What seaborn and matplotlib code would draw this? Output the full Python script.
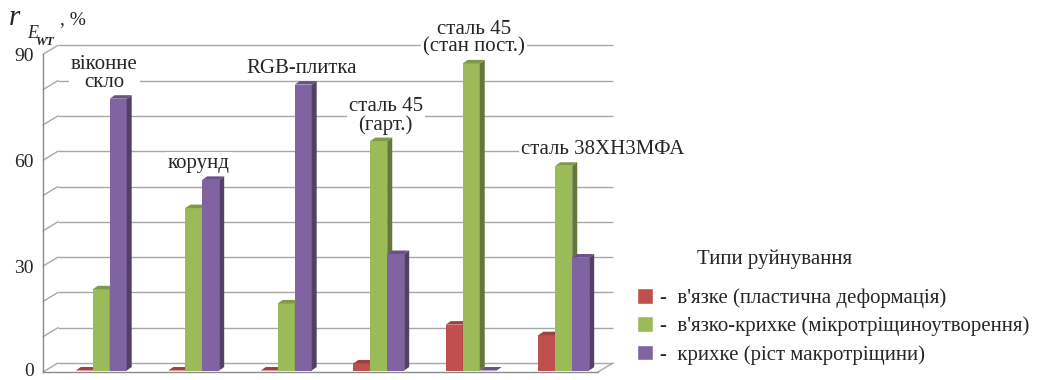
import numpy as np
import pandas as pd
import matplotlib
matplotlib.use("Agg")
import matplotlib.pyplot as plt
from matplotlib.transforms import Affine2D, IdentityTransform
from matplotlib.patches import Polygon
from matplotlib.lines import Line2D
from matplotlib.colors import to_rgb
import seaborn as sns

# ---- data -------------------------------------------------------------
materials = ["віконне скло", "корунд", "RGB-плитка",
             "сталь 45 (гарт.)", "сталь 45 (стан пост.)", "сталь 38ХН3МФА"]
material_labels = ["віконне\nскло", "корунд", "RGB-плитка",
                   "сталь 45\n(гарт.)", "сталь 45\n(стан пост.)", "сталь 38ХН3МФА"]
fracture_types = ["в'язке (пластична деформація)",
                  "в'язко-крихке (мікротріщиноутворення)",
                  "крихке (ріст макротріщини)"]
ductile = [0, 0, 0, 2, 13, 10]
ductile_brittle = [23, 46, 19, 65, 87, 58]
brittle = [77, 54, 81, 33, 0, 32]
y_ticks = [0, 30, 60, 90]
legend_title = "Типи руйнування"

# ---- styling ----------------------------------------------------------
colors = ["#c0504d", "#9bbb59", "#8064a2"]
grid_color = "#a8a8a8"
axis_color = "#8a8a8a"
FS = 15
SERIF = "Liberation Serif"

sns.set_style("white")
plt.rcParams["font.family"] = "serif"
plt.rcParams["font.serif"] = [SERIF, "DejaVu Serif"]

W, H = 1039, 380
fig = plt.figure(figsize=(W / 100, H / 100), dpi=100)
ax = fig.add_axes([43 / W, 8 / H, 555 / W, 317.7 / H])

df = pd.DataFrame({
    "material": np.repeat(materials, 3),
    "type": fracture_types * len(materials),
    "value": np.ravel(np.column_stack([ductile, ductile_brittle, brittle])),
})

sns.barplot(data=df, x="material", y="value", hue="type",
            order=materials, hue_order=fracture_types, palette=colors,
            saturation=1, width=0.55, errorbar=None, ax=ax, legend=True)

ax.set_xlim(-0.5, len(materials) - 0.5)
ax.set_ylim(0, 90)
ax.set_autoscale_on(False)
ax.set_xlabel("")
ax.set_ylabel("")

# pseudo-3D geometry (display pixels)
BAR_DX, BAR_DY = 12, 1.5       # bars sit a little behind the front plane
DEPTH_DX, DEPTH_DY = 5, 3.5    # bar thickness
WALL_DX, WALL_DY = 15, 9       # back wall offset


def shade(c, f):
    r, g, b = to_rgb(c)
    return (r * f, g * f, b * f)


ident = IdentityTransform()
bar_shift = ax.transData + Affine2D().translate(BAR_DX, BAR_DY)
cluster_tops = {}
for i, cont in enumerate(ax.containers):
    base = colors[i]
    for j, p in enumerate(cont):
        p.set_transform(bar_shift)
        p.set_linewidth(0)
        z = 3 + i * 0.1
        p.set_zorder(z)
        x0, y0 = p.get_x(), p.get_y()
        X0, Y0 = bar_shift.transform((x0, y0))
        X1, Y1 = bar_shift.transform((x0 + p.get_width(), y0 + p.get_height()))
        side = Polygon([(X1, Y0), (X1 + DEPTH_DX, Y0 + DEPTH_DY),
                        (X1 + DEPTH_DX, Y1 + DEPTH_DY), (X1, Y1)],
                       closed=True, transform=ident, facecolor=shade(base, 0.64),
                       edgecolor="none", zorder=z + 0.01, clip_on=False)
        top = Polygon([(X0, Y1), (X1, Y1), (X1 + DEPTH_DX, Y1 + DEPTH_DY),
                       (X0 + DEPTH_DX, Y1 + DEPTH_DY)],
                      closed=True, transform=ident, facecolor=shade(base, 0.82),
                      edgecolor="none", zorder=z + 0.02, clip_on=False)
        ax.add_patch(side)
        ax.add_patch(top)
        lo, hi, top_y = cluster_tops.get(j, (np.inf, -np.inf, -np.inf))
        cluster_tops[j] = (min(lo, X0), max(hi, X1), max(top_y, Y1 + DEPTH_DY))

# back wall gridlines
grid_values = np.arange(0, 91, 10)
wall = ax.transData + Affine2D().translate(WALL_DX, WALL_DY)
ax.hlines(grid_values, -0.5, len(materials) - 0.5, transform=wall,
          colors=grid_color, lw=1, zorder=1, clip_on=False)
# side wall and floor edges
for v in grid_values:
    px, py = ax.transData.transform((-0.5, v))
    ax.add_line(Line2D([px, px + WALL_DX], [py, py + WALL_DY], transform=ident,
                       color=grid_color, lw=1, zorder=1, clip_on=False))
px, py = ax.transData.transform((len(materials) - 0.5, 0))
ax.add_line(Line2D([px, px + WALL_DX], [py, py + WALL_DY], transform=ident,
                   color=grid_color, lw=1, zorder=1, clip_on=False))

# axes
for s in ["top", "right"]:
    ax.spines[s].set_visible(False)
for s in ["left", "bottom"]:
    ax.spines[s].set_color(axis_color)
    ax.spines[s].set_linewidth(1)
ax.set_xticks(np.arange(-0.5, len(materials), 1))
ax.set_xticklabels([])
ax.tick_params(axis="x", length=5, color=axis_color, width=1, direction="out")
ax.set_yticks(y_ticks)
ax.set_yticklabels([])
ax.tick_params(axis="y", length=0)

# value-axis labels on the front plane; the lowest one is kept inside the canvas
for v in y_ticks:
    lx, ly = ax.transData.transform((-0.5, v))
    if v == min(y_ticks):
        ax.text(lx - 9, 0.5, str(v), transform=ident, ha="right", va="bottom",
                fontsize=14, family=SERIF, clip_on=False)
    else:
        ax.text(lx - 9, ly, str(v), transform=ident, ha="right",
                va="center_baseline", fontsize=14, family=SERIF, clip_on=False)

# category labels above each cluster
label_dx = [3, 5, 15, 7, 3, 39]
for j, txt in enumerate(material_labels):
    lo, hi, top_y = cluster_tops[j]
    ax.text((lo + hi) / 2 + label_dx[j], top_y + 3, txt, transform=ident,
            ha="center", va="bottom", fontsize=FS, linespacing=0.92,
            family=SERIF, zorder=5,
            bbox=dict(boxstyle="square,pad=0.1", fc="white", ec="none"))

# legend
handles, labels = ax.get_legend_handles_labels()
ax.get_legend().remove()
fig.legend(handles, ["-  " + l for l in labels], loc="upper left",
           bbox_to_anchor=(637 / W, 1 - 288 / H), frameon=False,
           borderpad=0, borderaxespad=0, handlelength=0.77, handleheight=0.77,
           handletextpad=0.35, labelspacing=0.4,
           prop={"size": FS, "family": SERIF})
fig.text(697 / W, 1 - 259 / H, legend_title, ha="left", va="center",
         fontsize=FS, family=SERIF)

# y-axis quantity label
fig.text(9 / W, 1 - 25 / H, "r", fontsize=21, style="italic", va="baseline",
         family=SERIF)
fig.text(27 / W, 1 - 38 / H, "E", fontsize=13, style="italic", va="baseline",
         family=SERIF)
fig.text(35 / W, 1 - 45 / H, "WT", fontsize=9, style="italic", weight="bold",
         va="baseline", family=SERIF)
fig.text(60 / W, 1 - 24 / H, ", %", fontsize=14, va="baseline", family=SERIF)

fig.savefig("out.png", dpi=100)
